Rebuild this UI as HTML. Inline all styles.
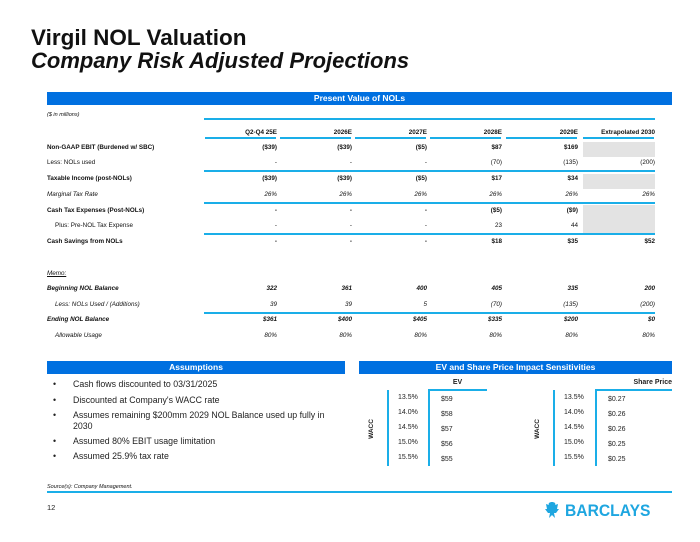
<!DOCTYPE html>
<html><head><meta charset="utf-8">
<style>
body{margin:0;background:#fff;}
#page{position:relative;width:700px;height:542px;overflow:hidden;font-family:"Liberation Sans",Arial,sans-serif;color:#111;}
.a{position:absolute;white-space:nowrap;}
.bar{position:absolute;background:#0070e0;color:#fff;font-weight:bold;font-size:8.5px;text-align:center;line-height:13px;}
.ln{position:absolute;height:2px;background:#1aaee8;}
.t{position:absolute;font-size:6.3px;white-space:nowrap;}
.b{font-weight:bold}.i{font-style:italic}
.r{text-align:right;width:60px}
.bul{position:absolute;font-size:8.8px;color:#222;white-space:nowrap;line-height:11px;}
.sm{position:absolute;font-size:7px;color:#222;white-space:nowrap;line-height:8px;}
</style></head>
<body>
<div id="page">
<div class="a" style="left:31px;top:26px;font-size:22.5px;font-weight:bold;line-height:23px;">Virgil NOL Valuation<br><i style="font-size:22px">Company Risk Adjusted Projections</i></div>

<div class="bar" style="left:47px;top:92px;width:625px;">Present Value of NOLs</div>
<div class="t i" style="left:47px;top:112px;font-size:5.5px;">($ in millions)</div>
<div class="ln" style="left:204px;top:118px;width:451px;"></div>
<div style="position:absolute;left:583px;top:142px;width:72px;height:15px;background:#e3e3e3"></div>
<div style="position:absolute;left:583px;top:174px;width:72px;height:15px;background:#e3e3e3"></div>
<div style="position:absolute;left:583px;top:205px;width:72px;height:29px;background:#e3e3e3"></div>
<div id="tbl"></div>

<div class="bar" style="left:47px;top:361px;width:298px;">Assumptions</div>
<div class="bar" style="left:359px;top:361px;width:313px;">EV and Share Price Impact Sensitivities</div>
<div>
<div class="bul" style="left:53px;top:379px">•</div><div class="bul" style="left:73px;top:379px">Cash flows discounted to 03/31/2025</div>
<div class="bul" style="left:53px;top:395px">•</div><div class="bul" style="left:73px;top:395px">Discounted at Company's WACC rate</div>
<div class="bul" style="left:53px;top:410px">•</div><div class="bul" style="left:73px;top:410px">Assumes remaining $200mm 2029 NOL Balance used up fully in<br>2030</div>
<div class="bul" style="left:53px;top:436px">•</div><div class="bul" style="left:73px;top:436px">Assumed 80% EBIT usage limitation</div>
<div class="bul" style="left:53px;top:451px">•</div><div class="bul" style="left:73px;top:451px">Assumed 25.9% tax rate</div>
</div>
<div id="sens"></div>

<div class="t i" style="left:47px;top:484px;font-size:5.5px;">Source(s): Company Management.</div>
<div class="ln" style="left:47px;top:491px;width:625px;"></div>
<div class="sm" style="left:47px;top:504px;font-size:7.5px">12</div>
<div class="a" style="left:544px;top:501px;color:#1ea6e0;font-weight:bold;font-size:17px;font-family:'Liberation Sans',sans-serif;">
<svg width="16" height="18" viewBox="0 0 16 18" style="vertical-align:-3px"><path d="M8 1 C5 1 4 3 5 4 L2 3 L3 8 L1 8 L4 12 L6 12 L5 17 L8 14 L11 17 L10 12 L12 12 L15 8 L13 8 L14 3 L11 4 C12 3 11 1 8 1Z" fill="#1ea6e0"/></svg>
<span style="display:inline-block;transform:scaleX(0.92);transform-origin:left">BARCLAYS</span></div>
</div>
<script>
const colRight=[277,352,427,502,578,655];
const headers=["Q2-Q4 25E","2026E","2027E","2028E","2029E","Extrapolated 2030"];
const rowLabels=["Non-GAAP EBIT (Burdened w/ SBC)","Less: NOLs used","Taxable Income (post-NOLs)","Marginal Tax Rate","Cash Tax Expenses (Post-NOLs)","   Plus: Pre-NOL Tax Expense","Cash Savings from NOLs","Memo:","Beginning NOL Balance","   Less: NOLs Used / (Additions)","Ending NOL Balance","   Allowable Usage"];
const rowVals=[["($39)","($39)","($5)","$87","$169",""],["-","-","-","(70)","(135)","(200)"],["($39)","($39)","($5)","$17","$34",""],["26%","26%","26%","26%","26%","26%"],["-","-","-","($5)","($9)",""],["-","-","-","23","44",""],["-","-","-","$18","$35","$52"],["","","","","",""],["322","361","400","405","335","200"],["39","39","5","(70)","(135)","(200)"],["$361","$400","$405","$335","$200","$0"],["80%","80%","80%","80%","80%","80%"]];
const rowY=[144,159,175,191,207,222,238,270,285,301,316,332];
const rowStyle=["b","","b","i","b","","b","i","b i","i","b i","i"];
const ruleY=[170,202,233,312];
const tbl=document.getElementById('tbl');
function add(parent,html,cls,l,t,w,name){const d=document.createElement('div');d.className=cls;d.style.left=l+'px';d.style.top=t+'px';if(w)d.style.width=w+'px';d.innerHTML=html;


parent.appendChild(d);return d;}
headers.forEach((h,i)=>{const x=colRight[i];add(tbl,h,'t b r',x-70,129,70,'column-header');
const l=document.createElement('div');l.className='ln';l.style.left=(x-72)+'px';l.style.top='137px';l.style.width='71px';


tbl.appendChild(l);});
rowLabels.forEach((lab,r)=>{const st=rowStyle[r];const ind=lab.startsWith('   ');
const d=add(tbl,lab.trim(),'t '+st,ind?55:47,rowY[r],0,'row-label');if(r===7)d.style.textDecoration='underline';
rowVals[r].forEach((v,c)=>{if(v)add(tbl,v,'t r '+st,colRight[c]-60,rowY[r],60,'cell-value');});});
ruleY.forEach(y=>{const l=document.createElement('div');l.className='ln';l.style.left='204px';l.style.top=y+'px';l.style.width='451px';


tbl.appendChild(l);});

const waccRates=["13.5%","14.0%","14.5%","15.0%","15.5%"];
const evVals=["$59","$58","$57","$56","$55"];
const spVals=["$0.27","$0.26","$0.26","$0.25","$0.25"];
const sens=document.getElementById('sens');
function sensTable(x1,x2,hdrRight,title,vals,name){
const g=document.createElement('div');


sens.appendChild(g);
const w=add(g,'WACC','sm b',x1-25,425,0,'wacc-label');w.style.transform='rotate(-90deg)';w.style.fontSize='6.5px';
const v1=document.createElement('div');v1.style.cssText='position:absolute;left:'+x1+'px;top:390px;width:2px;height:76px;background:#1aaee8';


g.appendChild(v1);
const v2=document.createElement('div');v2.style.cssText='position:absolute;left:'+x2+'px;top:389px;width:2px;height:77px;background:#1aaee8';


g.appendChild(v2);
const h=document.createElement('div');h.style.cssText='position:absolute;left:'+x2+'px;top:389px;width:'+(hdrRight-x2)+'px;height:2px;background:#1aaee8';


g.appendChild(h);
const t=add(g,title,'sm b',x2,379,hdrRight-x2,'sensitivity-title');t.style.textAlign=title==='EV'?'center':'right';
waccRates.forEach((r,i)=>{add(g,r,'sm',x1+11,394+i*15,0,'wacc-rate');add(g,vals[i],'sm',x2+13,396+i*15,0,'sensitivity-value');});}
sensTable(387,428,487,'EV',evVals,'ev-table');
sensTable(553,595,672,'Share Price',spVals,'share-price-table');
</script>
</body></html>
